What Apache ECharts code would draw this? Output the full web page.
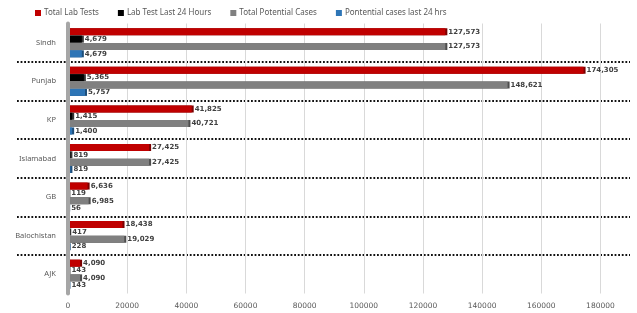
<!DOCTYPE html>
<html>
<head>
<meta charset="utf-8">
<script src="https://cdn.jsdelivr.net/npm/echarts@6/dist/echarts.min.js"></script>
<style>
  html, body { margin: 0; padding: 0; background: #fff; }
  #chart { width: 637px; height: 313px; }
</style>
</head>
<body>
<div id="chart"></div>
<script>
// data
const regions = ['Sindh', 'Punjab', 'KP', 'Islamabad', 'GB', 'Balochistan', 'AJK']
const totalLabTests = [127573, 174305, 41825, 27425, 6636, 18438, 4090]
const labTests24h = [4679, 5365, 1415, 819, 119, 417, 143]
const totalPotential = [127573, 148621, 40721, 27425, 6985, 19029, 4090]
const potential24h = [4679, 5757, 1400, 819, 56, 228, 143]
const xTicks = [0, 20000, 40000, 60000, 80000, 100000, 120000, 140000, 160000, 180000]

const seriesDefs = [
  { name: 'Total Lab Tests', data: totalLabTests, color: '#C00000', edge: '#7a0000' },
  { name: 'Lab Test Last 24 Hours', data: labTests24h, color: '#000000', edge: '#333333' },
  { name: 'Total Potential Cases', data: totalPotential, color: '#808080', edge: '#4d4d4d' },
  { name: 'Pontential cases last 24 hrs', data: potential24h, color: '#2E75B6', edge: '#1d4e7a' }
]

const chart = echarts.init(document.getElementById('chart'))

const gridTop = 23.5
const gridHeight = 270

const option = {
  animation: false,
  legend: {
    left: 30,
    top: 4,
    itemWidth: 6,
    itemHeight: 6,
    itemGap: 19,
    icon: 'rect',
    textStyle: { fontFamily: 'Noto Sans', fontSize: 8, color: '#595959', padding: [0, 0, 0, -2] },
    data: seriesDefs.map(s => s.name)
  },
  grid: [
    { left: 68, right: 7, top: gridTop, height: gridHeight },
    { left: 17, right: 7, top: gridTop, height: gridHeight }
  ],
  xAxis: [
    {
      gridIndex: 0,
      type: 'value',
      min: 0,
      max: 190000,
      interval: 20000,
      axisLine: { show: false },
      axisTick: { show: false },
      axisLabel: {
        margin: 9,
        fontFamily: 'DejaVu Sans',
        fontSize: 7.5,
        color: '#595959',
        formatter: v => (xTicks.indexOf(v) >= 0 ? String(v) : '')
      },
      splitLine: { show: true, showMaxLine: false, lineStyle: { color: '#d9d9d9', width: 1 } }
    },
    { gridIndex: 1, type: 'value', show: false, min: 0, max: 1 }
  ],
  yAxis: [
    {
      gridIndex: 0,
      type: 'category',
      inverse: true,
      data: regions,
      axisLine: { show: true, lineStyle: { color: '#a6a6a6', width: 4 } },
      axisTick: { show: false },
      axisLabel: { margin: 12, fontFamily: 'Noto Sans', fontSize: 7.5, color: '#595959' },
      z: 3
    },
    {
      gridIndex: 1,
      type: 'value',
      min: 0,
      max: 7,
      interval: 1,
      axisLine: { show: false },
      axisTick: { show: false },
      axisLabel: { show: false },
      splitLine: {
        show: true,
        showMinLine: false,
        showMaxLine: false,
        lineStyle: { color: '#111', width: 1.8, type: [1.8, 1.8] }
      }
    }
  ],
  series: seriesDefs.map(s => ({
    name: s.name,
    type: 'bar',
    xAxisIndex: 0,
    yAxisIndex: 0,
    data: s.data,
    barWidth: 7,
    barGap: '5%',
    itemStyle: {
      color: s.color,
      shadowColor: s.edge,
      shadowOffsetX: 2,
      shadowOffsetY: 0,
      shadowBlur: 0
    },
    label: {
      show: true,
      position: 'right',
      distance: 3,
      fontFamily: 'DejaVu Sans',
      fontSize: 7,
      fontWeight: 'bold',
      color: '#404040',
      formatter: p => p.value.toLocaleString('en-US')
    }
  }))
}

chart.setOption(option)
</script>
</body>
</html>
